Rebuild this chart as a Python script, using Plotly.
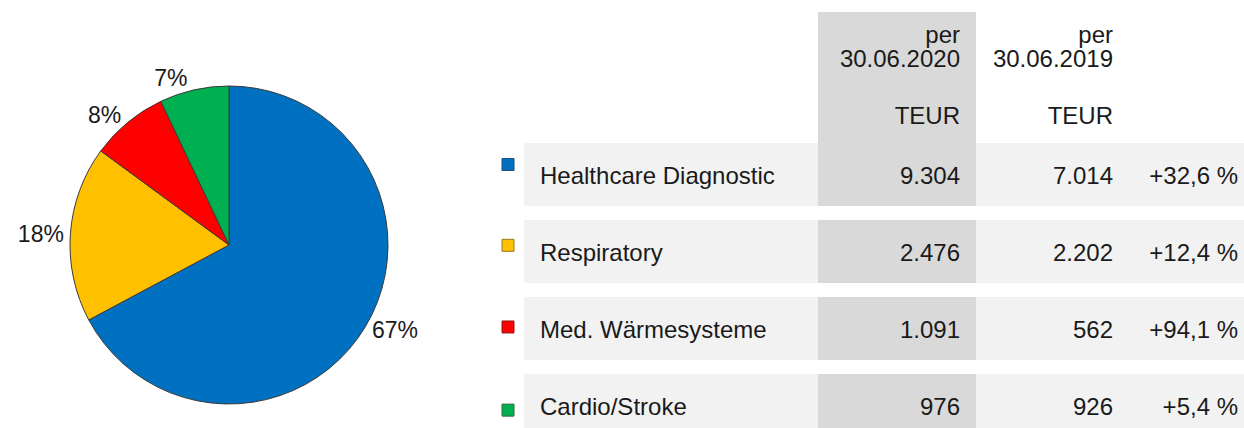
import plotly.graph_objects as go

# ---------------- data ----------------
categories = ["Healthcare Diagnostic", "Respiratory", "Med. Wärmesysteme", "Cardio/Stroke"]
values_2020 = [9304, 2476, 1091, 976]
values_2019 = [7014, 2202, 562, 926]
labels_2020 = ["9.304", "2.476", "1.091", "976"]
labels_2019 = ["7.014", "2.202", "562", "926"]
changes = ["+32,6 %", "+12,4 %", "+94,1 %", "+5,4 %"]
header_2020 = ["per", "30.06.2020", "TEUR"]
header_2019 = ["per", "30.06.2019", "TEUR"]

# ---------------- styles ----------------
colors = ["#0070C0", "#FFC000", "#FF0000", "#00B050"]
marker_edges = ["#1F4E79", "#9C7A1E", "#8B1A1A", "#2E6B3A"]
FONT = "Liberation Sans, Arial, sans-serif"
TXT = "#1a1a1a"
W, H = 1244, 428

# table layout (x in table units = px from table left, y in row units)
TBL_X0 = 495
TBL_W = W - TBL_X0
row_bg_start = 29
name_x = 45
col20_left, col20_right = 323, 481
col20_text = 465
col19_text = 618
chg_text = 743
marker_x = 13
row_h = 0.818
y_top, y_bot = -2.266, 3.292
header_center, header_h = -1.2595, 1.70
text_dy = 0.04
header_y = [-1.784, -1.474, -0.73]
marker_dy = [-0.13, -0.08, -0.02, 0.06]

rows = list(range(len(categories)))
text_rows = [r + text_dy for r in rows]

fig = go.Figure()

# ---- pie ----
fig.add_trace(go.Pie(
    values=values_2020,
    labels=categories,
    sort=False,
    direction="clockwise",
    rotation=0,
    marker=dict(colors=colors, line=dict(color="#3a3a3a", width=1)),
    textposition="outside",
    texttemplate="%{percent:.0%}",
    textfont=dict(family=FONT, size=23, color=TXT),
    domain=dict(x=[70 / W, 388 / W], y=[24 / H, 342 / H]),
    showlegend=False,
    hoverinfo="label+value+percent",
))

# ---- table backgrounds ----
fig.add_trace(go.Bar(
    orientation="h", y=rows, x=[TBL_W - row_bg_start] * len(rows),
    base=[row_bg_start] * len(rows), width=[row_h] * len(rows),
    marker=dict(color="#F2F2F2", line=dict(width=0)),
    xaxis="x2", yaxis="y2", showlegend=False, hoverinfo="skip",
))
fig.add_trace(go.Bar(
    orientation="h", y=[header_center] + rows,
    x=[col20_right - col20_left] * (len(rows) + 1),
    base=[col20_left] * (len(rows) + 1),
    width=[header_h] + [row_h] * len(rows),
    marker=dict(color="#D9D9D9", line=dict(width=0)),
    xaxis="x2", yaxis="y2", showlegend=False, hoverinfo="skip",
))

# ---- legend markers ----
fig.add_trace(go.Scatter(
    x=[marker_x] * len(rows), y=[r + d for r, d in zip(rows, marker_dy)],
    mode="markers",
    marker=dict(symbol="square", size=12, color=colors,
                line=dict(color=marker_edges, width=1)),
    xaxis="x2", yaxis="y2", showlegend=False, hoverinfo="skip", cliponaxis=False,
))

textfont = dict(family=FONT, size=24, color=TXT)
# category names
fig.add_trace(go.Scatter(
    x=[name_x] * len(rows), y=text_rows, text=categories, mode="text",
    textposition="middle right", textfont=textfont,
    xaxis="x2", yaxis="y2", showlegend=False, hoverinfo="skip", cliponaxis=False,
))
# values
for xpos, txt in [(col20_text, labels_2020), (col19_text, labels_2019), (chg_text, changes)]:
    fig.add_trace(go.Scatter(
        x=[xpos] * len(rows), y=text_rows, text=txt, mode="text",
        textposition="middle left", textfont=textfont,
        xaxis="x2", yaxis="y2", showlegend=False, hoverinfo="skip", cliponaxis=False,
    ))
# headers
for xpos, txt in [(col20_text, header_2020), (col19_text, header_2019)]:
    fig.add_trace(go.Scatter(
        x=[xpos] * len(txt), y=header_y, text=txt, mode="text",
        textposition="middle left", textfont=textfont,
        xaxis="x2", yaxis="y2", showlegend=False, hoverinfo="skip", cliponaxis=False,
    ))

fig.update_layout(
    width=W, height=H,
    margin=dict(l=0, r=0, t=0, b=0),
    paper_bgcolor="white", plot_bgcolor="white",
    barmode="overlay",
    xaxis2=dict(domain=[TBL_X0 / W, 1], range=[0, TBL_W], visible=False,
                fixedrange=True, anchor="y2"),
    yaxis2=dict(domain=[0, 1], range=[y_bot, y_top], visible=False,
                fixedrange=True, anchor="x2"),
)

fig.write_html("out.html", config={"displayModeBar": False},
               post_script="document.body.style.margin='0';")
